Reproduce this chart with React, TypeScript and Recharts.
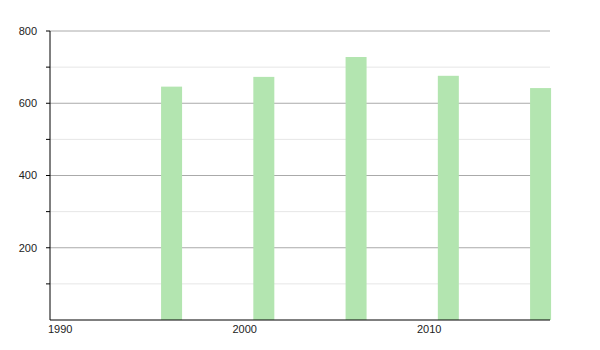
import React from "react";
import {
  ComposedChart,
  Bar,
  XAxis,
  YAxis,
  CartesianGrid,
} from "recharts";

const years = [1996, 2001, 2006, 2011, 2016];
const population = [646, 673, 728, 676, 642];
const xTicks = [1990, 2000, 2010];
const majorTicks = [200, 400, 600, 800];
const minorTicks = [100, 300, 500, 700];

const data = years.map((year, i) => ({ year, value: population[i] }));

const FONT = "'Liberation Sans', Arial, sans-serif";
const BAR_COLOR = "#b3e5b0";

// bars start at the census year instead of being centred on it
const BarShape = (props: any) => {
  const { x, y, width, height } = props;
  return (
    <rect
      x={x + width / 2}
      y={y}
      width={width}
      height={height}
      fill={BAR_COLOR}
    />
  );
};

const XTick = (props: any) => {
  const { x, y, payload } = props;
  return (
    <text
      x={x - 2}
      y={y + 5}
      textAnchor="start"
      fontSize={11}
      fontFamily={FONT}
      fill="#222"
    >
      {payload.value}
    </text>
  );
};

export default function App() {
  return (
    <div style={{ position: "absolute", left: 0, top: 0, background: "#fff" }}>
      <ComposedChart
        width={600}
        height={350}
        data={data}
        margin={{ top: 31, right: 50, bottom: 0, left: 0 }}
      >
        <CartesianGrid
          vertical={false}
          horizontalValues={minorTicks}
          stroke="#e6e6e6"
        />
        <CartesianGrid
          vertical={false}
          horizontalValues={majorTicks}
          stroke="#aaaaaa"
        />
        <XAxis
          dataKey="year"
          type="number"
          domain={[1990, 2017.1]}
          ticks={xTicks}
          height={30}
          tickLine={false}
          axisLine={{ stroke: "#000" }}
          tick={<XTick />}
          interval={0}
        />
        <YAxis
          type="number"
          domain={[0, 800]}
          ticks={[...minorTicks, ...majorTicks].sort((a, b) => a - b)}
          width={50}
          tickSize={4}
          tickMargin={9}
          interval={0}
          axisLine={{ stroke: "#000" }}
          tickLine={{ stroke: "#000" }}
          tick={{ fontSize: 11, fontFamily: FONT, fill: "#222" }}
          tickFormatter={(v: number) => (majorTicks.includes(v) ? String(v) : "")}
        />
        <Bar
          dataKey="value"
          barSize={21}
          shape={<BarShape />}
          isAnimationActive={false}
        />
      </ComposedChart>
    </div>
  );
}
